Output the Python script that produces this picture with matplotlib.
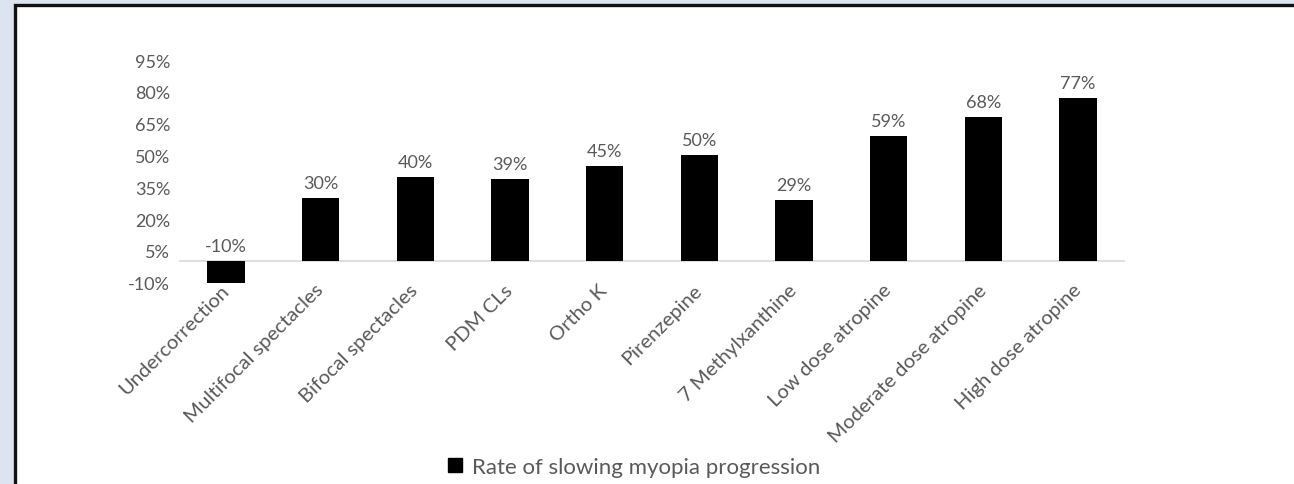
import matplotlib
matplotlib.use("Agg")
import matplotlib.pyplot as plt
from matplotlib.patches import Rectangle
from matplotlib.lines import Line2D

categories = ["Undercorrection", "Multifocal spectacles", "Bifocal spectacles", "PDM CLs",
              "Ortho K", "Pirenzepine", "7 Methylxanthine", "Low dose atropine",
              "Moderate dose atropine", "High dose atropine"]
values = [-10, 30, 40, 39, 45, 50, 29, 59, 68, 77]
yticks = [-10, 5, 20, 35, 50, 65, 80, 95]
series_name = "Rate of slowing myopia progression"

W, H = 1294, 485
plt.rcParams["font.family"] = ["Lato", "DejaVu Sans"]
gray = "#595959"

fig = plt.figure(figsize=(W / 100, H / 100), dpi=100)
fig.patch.set_facecolor("#dce4f2")

# white panel with a dark frame on the top and left
panel = Rectangle((15.5 / W, -0.05), 1.2, 1 - 5.5 / H + 0.05, transform=fig.transFigure,
                  facecolor="white", edgecolor="#111111", linewidth=2.4, zorder=-10)
fig.patches.append(panel)

px0, px1 = 178.5, 1125.4
ytop, ybot = 61.0, 283.7
ax = fig.add_axes([px0 / W, 1 - ybot / H, (px1 - px0) / W, (ybot - ytop) / H])
ax.set_facecolor("none")

x = list(range(len(categories)))
ax.bar(x, values, width=0.395, color="black", zorder=3)
ax.set_xlim(-0.5, len(categories) - 0.5)
ax.set_ylim(-10, 95)
ax.axhline(0, color="#d9d9d9", linewidth=1.2, zorder=2)

for xi, v in zip(x, values):
    ax.text(xi, max(v, 0) + 3.3, f"{v}%", ha="center", va="bottom",
            fontsize=13, color=gray)

ax.set_yticks(yticks)
ax.set_yticklabels([f"{t}%" for t in yticks], fontsize=13, color=gray)
ax.set_xticks(x)
ax.set_xticklabels(categories, rotation=45, ha="right", va="center",
                   rotation_mode="anchor", fontsize=14.6, color=gray)
ax.tick_params(axis="both", length=0)
ax.tick_params(axis="y", pad=6)
ax.tick_params(axis="x", pad=3)
for s in ax.spines.values():
    s.set_visible(False)

handle = Line2D([], [], marker="s", linestyle="none", markersize=10.5, color="black")
fig.legend([handle], [series_name], loc="center", bbox_to_anchor=(632 / W, 1 - 468 / H),
           frameon=False, fontsize=16, labelcolor=gray, handletextpad=0.3,
           handlelength=1.0)

fig.savefig("out.png", dpi=100, facecolor=fig.get_facecolor())
